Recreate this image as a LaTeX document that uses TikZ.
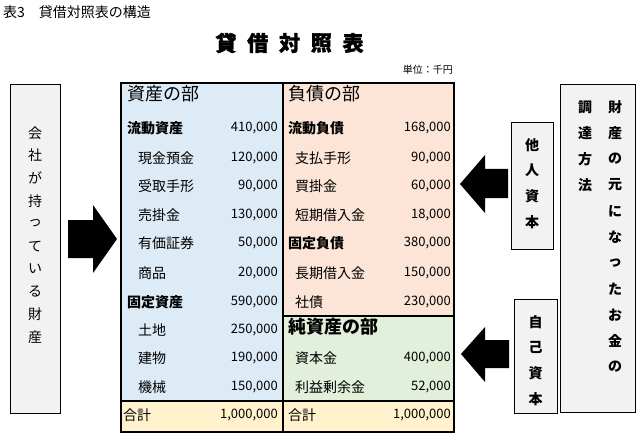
\documentclass[tikz,border=0pt]{standalone}
\usepackage{fontspec}
\setmainfont{Noto Sans CJK JP}
\newfontfamily\titlefont[BoldFeatures={FakeBold=1.5}]{Noto Sans CJK JP}
\definecolor{assetc}{HTML}{DDEBF7}
\definecolor{liabc}{HTML}{FCE4D6}
\definecolor{netc}{HTML}{E2EFDA}
\definecolor{totc}{HTML}{FFF2CC}
\definecolor{boxc}{HTML}{F2F2F2}
\begin{document}
\begin{tikzpicture}[x=1pt,y=-1pt,
  tline/.style={line width=1.7pt},
  gbox/.style={draw=black,line width=0.8pt,fill=boxc},
  hdr/.style={anchor=west,inner sep=0pt,font=\fontsize{18}{20}\selectfont},
  bitem/.style={anchor=west,inner sep=0pt,font=\fontsize{14}{16}\selectfont\bfseries},
  item/.style={anchor=west,inner sep=0pt,font=\fontsize{14}{16}\selectfont},
  num/.style={anchor=east,inner sep=0pt,font=\fontsize{13}{15}\selectfont},
  vch/.style={inner sep=0pt,font=\fontsize{14}{16}\selectfont},
  vchb/.style={inner sep=0pt,font=\fontsize{14}{16}\selectfont\bfseries},
  blockarrow/.style={fill=black}
]
\useasboundingbox (0,0) rectangle (641,444);
% titles
\node[anchor=west,inner sep=0pt,font=\fontsize{14}{16}\selectfont] (cap) at (3,12) {表3　貸借対照表の構造};
\foreach \c [count=\i] in {貸,借,対,照,表}
  \node[inner sep=0pt,font=\fontsize{21}{23}\selectfont\titlefont\bfseries] (t\i) at ({226+31.75*(\i-1)},43) {\c};
\node[anchor=east,inner sep=0pt,font=\fontsize{10}{12}\selectfont] (unit) at (453,70) {単位：千円};
% table fills
\fill[assetc] (121,83) rectangle (283,401);
\fill[liabc] (283,83) rectangle (454,316);
\fill[netc] (283,316) rectangle (454,401);
\fill[totc] (121,401) rectangle (454,432);
\draw[tline] (121,83) rectangle (454,432);
\draw[tline] (283,83) -- (283,432);
\draw[tline] (121,401) -- (454,401);
\draw[tline] (283,316) -- (454,316);
% left column
\node[hdr] (ah) at (127,94) {資産の部};
\node[bitem] (a1) at (127,128) {流動資産}; \node[num] (a1n) at (278,128) {410,000};
\node[item] (a2) at (138,158) {現金預金}; \node[num] (a2n) at (278,158) {120,000};
\node[item] (a3) at (138,186) {受取手形}; \node[num] (a3n) at (278,186) {90,000};
\node[item] (a4) at (138,215) {売掛金}; \node[num] (a4n) at (278,215) {130,000};
\node[item] (a5) at (138,243) {有価証券}; \node[num] (a5n) at (278,243) {50,000};
\node[item] (a6) at (138,273) {商品}; \node[num] (a6n) at (278,273) {20,000};
\node[bitem] (a7) at (127,302) {固定資産}; \node[num] (a7n) at (278,302) {590,000};
\node[item] (a8) at (138,330) {土地}; \node[num] (a8n) at (278,330) {250,000};
\node[item] (a9) at (138,358) {建物}; \node[num] (a9n) at (278,358) {190,000};
\node[item] (a10) at (138,387) {機械}; \node[num] (a10n) at (278,387) {150,000};
\node[item] (at) at (123,415) {合計}; \node[num] (atn) at (278,415) {1,000,000};
% right column
\node[hdr] (lh) at (288,94) {負債の部};
\node[bitem] (l1) at (288,128) {流動負債}; \node[num] (l1n) at (451,128) {168,000};
\node[item] (l2) at (295,158) {支払手形}; \node[num] (l2n) at (451,158) {90,000};
\node[item] (l3) at (295,186) {買掛金}; \node[num] (l3n) at (451,186) {60,000};
\node[item] (l4) at (295,215) {短期借入金}; \node[num] (l4n) at (451,215) {18,000};
\node[bitem] (l5) at (288,243) {固定負債}; \node[num] (l5n) at (451,243) {380,000};
\node[item] (l6) at (295,273) {長期借入金}; \node[num] (l6n) at (451,273) {150,000};
\node[item] (l7) at (295,302) {社債}; \node[num] (l7n) at (451,302) {230,000};
\node[hdr,font=\fontsize{18}{20}\selectfont\bfseries] (nh) at (288,327) {純資産の部};
\node[item] (n1) at (295,358) {資本金}; \node[num] (n1n) at (451,358) {400,000};
\node[item] (n2) at (295,387) {利益剰余金}; \node[num] (n2n) at (451,387) {52,000};
\node[item] (rt) at (288,415) {合計}; \node[num] (rtn) at (451,415) {1,000,000};
% left box
\draw[gbox] (10,84) rectangle (60,413);
\foreach \c [count=\i] in {会,社,が,持,っ,て,い,る,財,産}
  \node[vch] (lb\i) at (35,{133+22.65*(\i-1)}) {\c};
% right boxes
\draw[gbox] (511,122) rectangle (553,249);
\foreach \c [count=\i] in {他,人,資,本}
  \node[vchb] (ob\i) at (532,{145+25.7*(\i-1)}) {\c};
\draw[gbox] (514,299) rectangle (557,413);
\foreach \c [count=\i] in {自,己,資,本}
  \node[vchb] (sb\i) at (535.5,{322+25.7*(\i-1)}) {\c};
\draw[gbox] (560,84) rectangle (635,412);
\foreach \c [count=\i] in {財,産,の,元,に,な,っ,た,お,金,の}
  \node[vchb] (fa\i) at (615,{107+26*(\i-1)}) {\c};
\foreach \c [count=\i] in {調,達,方,法}
  \node[vchb] (fb\i) at (585,{107+26*(\i-1)}) {\c};
% block arrows
\fill[blockarrow] (68,220) -- (93,220) -- (93,205) -- (117,239) -- (93,273) -- (93,258) -- (68,258) -- cycle;
\fill[blockarrow] (508,169) -- (485,169) -- (485,155) -- (460,184) -- (485,213) -- (485,198) -- (508,198) -- cycle;
\fill[blockarrow] (509,340) -- (485,340) -- (485,327) -- (461,354) -- (485,382) -- (485,368) -- (509,368) -- cycle;
\end{tikzpicture}
\end{document}
